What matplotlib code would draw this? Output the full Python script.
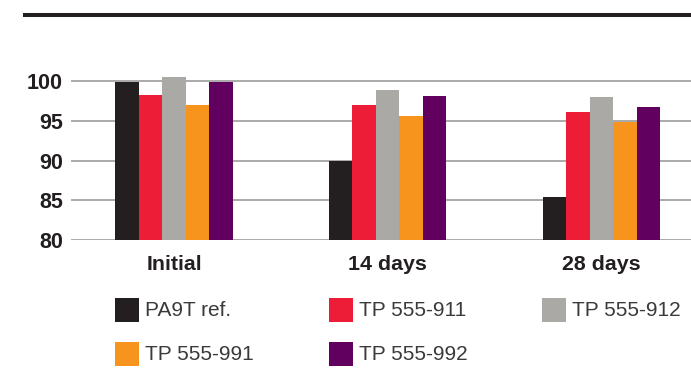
import matplotlib.pyplot as plt
from matplotlib.patches import Rectangle
from matplotlib.lines import Line2D
import numpy as np

categories = ['Initial', '14 days', '28 days']
series = ['PA9T ref.', 'TP 555-911', 'TP 555-912', 'TP 555-991', 'TP 555-992']
colors = ['#231f20', '#ed1c37', '#aaa9a5', '#f7941d', '#62005f']
values = [
    [99.9, 90.0, 85.4],
    [98.2, 97.0, 96.1],
    [100.5, 98.9, 98.0],
    [97.0, 95.6, 94.9],
    [99.9, 98.1, 96.7],
]
yticks = [80, 85, 90, 95, 100]

W, H = 691, 392
fig = plt.figure(figsize=(W / 100, H / 100), dpi=100)

# axes placed in pixel terms: left edge 71px, y=80 at 240px, y=102 at ~65px
ax = fig.add_axes([71 / W, 1 - 240 / H, 1 - 71 / W, (240 - 65.1) / H])
ax.set_ylim(80, 102)
ax.set_xlim(-0.482, 2.42)

x = np.arange(len(categories))
bw = 0.11
for i, (name, col) in enumerate(zip(series, colors)):
    ax.bar(x + (i - 2) * bw, np.array(values[i]) - 80, bottom=80, width=bw,
           color=col, zorder=3, linewidth=0)

for t in yticks:
    ax.axhline(t, color='#aaaaaa', lw=1.4, zorder=1)

ax.set_yticks(yticks)
ax.set_yticklabels([str(t) for t in yticks], fontsize=15.5, fontweight='bold',
                   color='#231f20', family='Liberation Sans')
ax.set_xticks(x)
ax.set_xticklabels(categories, fontsize=15.4, fontweight='bold',
                   color='#231f20', family='Liberation Sans')
ax.tick_params(axis='both', length=0)
ax.tick_params(axis='y', pad=5.8)
ax.tick_params(axis='x', pad=11)
for s in ax.spines.values():
    s.set_visible(False)

# top rule
fig.add_artist(Line2D([25 / W, 1], [1 - 14.7 / H, 1 - 14.7 / H], color='#231f20',
                      lw=2.9, transform=fig.transFigure))

# legend laid out in rows of three
lx = [115, 329, 542]
ly = [310, 354]
for i, (name, col) in enumerate(zip(series, colors)):
    px = lx[i % 3]
    py = ly[i // 3]
    fig.add_artist(Rectangle((px / W, 1 - (py + 11.7) / H), 24 / W, 23.4 / H,
                             color=col, transform=fig.transFigure, lw=0))
    fig.text((px + 30) / W, 1 - (py + 0.5) / H, name, fontsize=15,
             va='center', ha='left', color='#3a3a3a', family='Liberation Sans')

fig.savefig('out.png', dpi=100)
